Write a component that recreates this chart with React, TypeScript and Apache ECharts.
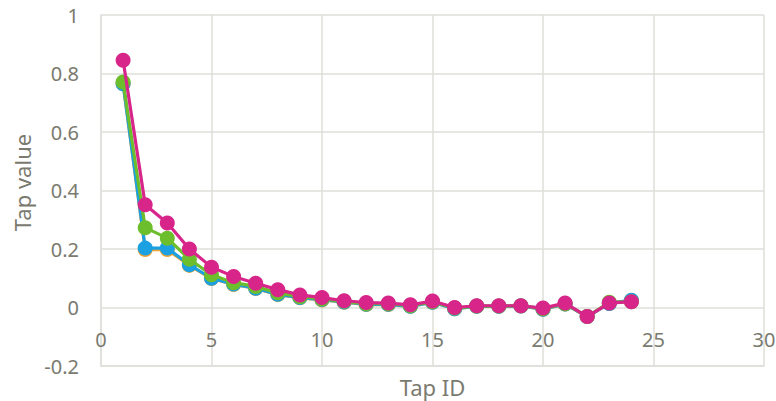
import React, { useEffect, useRef } from "react";
import * as echarts from "echarts";

const tapIds = [1, 2, 3, 4, 5, 6, 7, 8, 9, 10, 11, 12, 13, 14, 15, 16, 17, 18, 19, 20, 21, 22, 23, 24];

const orangeValues = [0.765, 0.198, 0.198, 0.144, 0.099, 0.079, 0.065, 0.044, 0.033, 0.026, 0.018, 0.010, 0.010, 0.004, 0.018, -0.004, 0.004, 0.004, 0.005, -0.006, 0.012, -0.031, 0.014, 0.024];
const blueValues = [0.765, 0.203, 0.203, 0.146, 0.100, 0.080, 0.066, 0.045, 0.034, 0.027, 0.019, 0.011, 0.011, 0.004, 0.018, -0.004, 0.004, 0.004, 0.005, -0.006, 0.012, -0.031, 0.014, 0.025];
const greenValues = [0.771, 0.273, 0.237, 0.165, 0.112, 0.085, 0.072, 0.050, 0.037, 0.029, 0.021, 0.013, 0.013, 0.006, 0.020, -0.002, 0.005, 0.005, 0.006, -0.004, 0.013, -0.031, 0.018, 0.020];
const magentaValues = [0.845, 0.351, 0.289, 0.200, 0.138, 0.106, 0.083, 0.061, 0.043, 0.034, 0.023, 0.017, 0.015, 0.009, 0.022, 0.000, 0.006, 0.006, 0.006, -0.002, 0.015, -0.031, 0.015, 0.020];

const seriesNames = ["Series 4", "Series 1", "Series 2", "Series 3"];
const seriesColors = ["#f0a232", "#1ba1e2", "#6dbe2d", "#d7258a"];
const seriesValues = [orangeValues, blueValues, greenValues, magentaValues];

const xTitle = "Tap ID";
const yTitle = "Tap value";

const TEXT = "#7a7a6f";
const GRID = "#dededa";
const FONT = "'Noto Sans', sans-serif";

export default function App() {
  const ref = useRef<HTMLDivElement>(null);

  useEffect(() => {
    if (!ref.current) return;
    const chart = echarts.init(ref.current, null, { renderer: "svg" });
    chart.setOption({
      animation: false,
      backgroundColor: "#ffffff",
      grid: { left: 101, right: 12, top: 15, bottom: 35, containLabel: false, outerBoundsMode: "none" },
      xAxis: {
        type: "value",
        position: "bottom",
        min: 0,
        max: 30,
        interval: 5,
        name: xTitle,
        nameLocation: "middle",
        nameGap: 10,
        nameTextStyle: { color: TEXT, fontSize: 22, fontFamily: FONT },
        axisLine: { show: true, onZero: false, lineStyle: { color: GRID, width: 1.5 } },
        axisTick: { show: false },
        axisLabel: { color: TEXT, fontSize: 20, fontFamily: FONT, margin: -37 },
        splitLine: { show: true, lineStyle: { color: GRID, width: 1.5 } },
      },
      yAxis: {
        type: "value",
        min: -0.2,
        max: 1,
        interval: 0.2,
        name: yTitle,
        nameLocation: "middle",
        nameGap: 68,
        nameTextStyle: { color: TEXT, fontSize: 22, fontFamily: FONT, padding: [0, 0, 0, 16] },
        axisLine: { show: true, lineStyle: { color: GRID, width: 1.5 } },
        axisTick: { show: false },
        axisLabel: {
          color: TEXT,
          fontSize: 20,
          fontFamily: FONT,
          margin: 22,
          formatter: (v: number) => String(Math.round(v * 10) / 10),
        },
        splitLine: { show: true, lineStyle: { color: GRID, width: 1.5 } },
      },
      series: seriesValues.map((vals, i) => ({
        name: seriesNames[i],
        type: "line",
        data: tapIds.map((x, j) => [x, vals[j]]),
        symbol: "circle",
        symbolSize: 15,
        lineStyle: { color: seriesColors[i], width: 3.2 },
        itemStyle: { color: seriesColors[i] },
        z: 2 + i,
      })),
    });
    return () => chart.dispose();
  }, []);

  return (
    <div
      ref={ref}
      style={{ position: "fixed", left: 0, top: 0, width: 776, height: 401, background: "#fff" }}
    />
  );
}
